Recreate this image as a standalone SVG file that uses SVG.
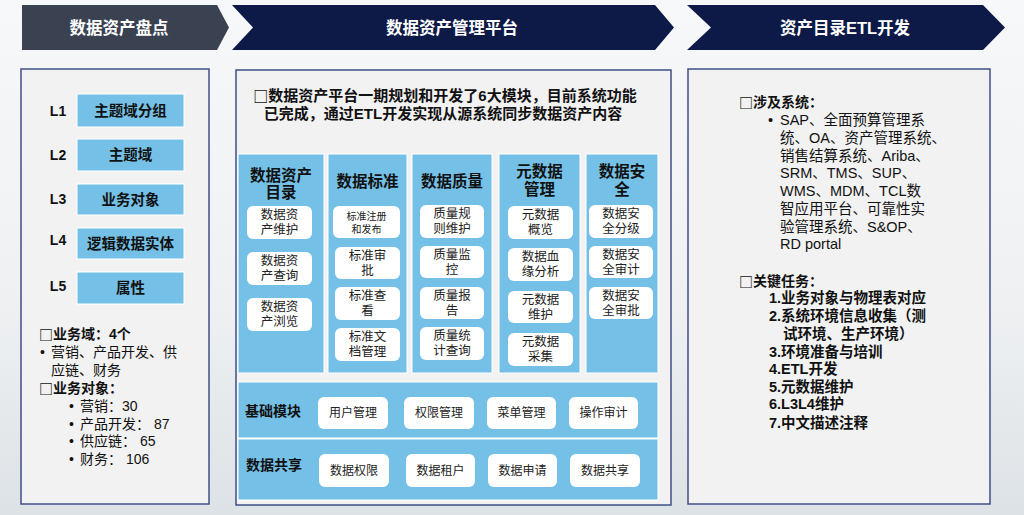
<svg xmlns="http://www.w3.org/2000/svg" width="1024" height="515" viewBox="0 0 1024 515">
<defs>
<linearGradient id="bg" x1="0" y1="0" x2="0" y2="1">
<stop offset="0" stop-color="#f7f8f9"/>
<stop offset="0.6" stop-color="#eef0f2"/>
<stop offset="1" stop-color="#dde2e6"/>
</linearGradient>
<style>
text{font-family:"Liberation Sans","Noto Sans CJK SC",sans-serif;fill:#111;}
.bx{font-family:"Noto Sans CJK SC",sans-serif;font-weight:bold;}
.hd{fill:#fff;font-size:16.5px;font-weight:bold;text-anchor:middle;dominant-baseline:central;}
.panel{fill:#f2f2f2;stroke:#3f4f86;stroke-width:1.5;}
.lvl{fill:#74c0e6;stroke:#ffffff;stroke-width:1;}
.lvlt{font-size:14.5px;font-weight:bold;text-anchor:middle;dominant-baseline:central;}
.lab{font-size:14px;font-weight:bold;text-anchor:middle;dominant-baseline:central;}
.col{fill:#74c0e6;stroke:#ffffff;stroke-width:1;}
.colt{font-size:15.5px;font-weight:bold;text-anchor:middle;dominant-baseline:central;}
.wb{fill:#ffffff;}
.wt{font-size:12.5px;text-anchor:middle;dominant-baseline:central;fill:#222;}
.ws{font-size:10px;text-anchor:middle;dominant-baseline:central;fill:#222;}
.bt{font-size:12px;text-anchor:middle;dominant-baseline:central;fill:#222;}
.rowt{font-size:14px;font-weight:bold;dominant-baseline:central;}
.b{font-size:14px;font-weight:bold;dominant-baseline:central;}
.n{font-size:14px;dominant-baseline:central;}
.r{font-size:14.5px;dominant-baseline:central;}
.rb{font-size:14.5px;font-weight:bold;dominant-baseline:central;}
.intro{font-size:15px;font-weight:bold;text-anchor:middle;dominant-baseline:central;}
</style>
</defs>
<rect x="0" y="0" width="1024" height="515" fill="url(#bg)"/>

<g id="header">
<polygon points="22,5 217,5 229,27.5 217,50 22,50" fill="#3a4150"/>
<text class="hd" x="119" y="27.5">数据资产盘点</text>
<polygon points="232,5 655,5 674,27.5 655,50 232,50 253,27.5" fill="#0d1947"/>
<text class="hd" x="452" y="27.5">数据资产管理平台</text>
<polygon points="687,5 983,5 1005,27.5 983,50 687,50 711,27.5" fill="#0d1947"/>
<text class="hd" x="845" y="27.5">资产目录ETL开发</text>
</g>

<g id="left-panel">
<rect class="panel" x="21" y="69" width="188" height="435"/>
<g id="L1"><text class="lab" x="58" y="111">L1</text><rect class="lvl" x="77" y="94" width="107" height="33"/><text class="lvlt" x="130.5" y="110.5">主题域分组</text></g>
<g id="L2"><text class="lab" x="58" y="155">L2</text><rect class="lvl" x="77" y="139" width="107" height="32"/><text class="lvlt" x="130.5" y="155">主题域</text></g>
<g id="L3"><text class="lab" x="58" y="199">L3</text><rect class="lvl" x="77" y="184" width="107" height="31"/><text class="lvlt" x="130.5" y="199.5">业务对象</text></g>
<g id="L4"><text class="lab" x="58" y="240">L4</text><rect class="lvl" x="77" y="228" width="107" height="31"/><text class="lvlt" x="130.5" y="243.5">逻辑数据实体</text></g>
<g id="L5"><text class="lab" x="58" y="286">L5</text><rect class="lvl" x="77" y="272" width="107" height="32"/><text class="lvlt" x="130.5" y="288">属性</text></g>
<g id="left-notes">
<text class="b" x="39" y="334"><tspan class="bx">□</tspan>业务域：4个</text>
<text class="n" x="40" y="352">•</text>
<text class="n" x="51" y="352">营销、产品开发、供</text>
<text class="n" x="51" y="370">应链、财务</text>
<text class="b" x="39" y="388"><tspan class="bx">□</tspan>业务对象：</text>
<text class="n" x="69" y="406">•</text>
<text class="n" x="80" y="406">营销：30</text>
<text class="n" x="69" y="424">•</text>
<text class="n" x="80" y="424">产品开发： 87</text>
<text class="n" x="69" y="441">•</text>
<text class="n" x="80" y="441">供应链： 65</text>
<text class="n" x="69" y="459">•</text>
<text class="n" x="80" y="459">财务： 106</text>
</g>
</g>

<g id="middle-panel">
<rect class="panel" x="236" y="70" width="435" height="435"/>
<text class="intro" x="445" y="95"><tspan class="bx">□</tspan>数据资产平台一期规划和开发了6大模块，目前系统功能</text>
<text class="intro" x="443" y="113">已完成，通过ETL开发实现从源系统同步数据资产内容</text>

<g id="col-catalog">
<rect class="col" x="238" y="154" width="86" height="219"/>
<text class="colt" x="281" y="175">数据资产</text>
<text class="colt" x="281" y="192">目录</text>
<rect class="wb" x="247" y="206" width="65" height="33" rx="6"/>
<text class="wt" x="279.5" y="215">数据资</text><text class="wt" x="279.5" y="230">产维护</text>
<rect class="wb" x="247" y="252" width="65" height="33" rx="6"/>
<text class="wt" x="279.5" y="261">数据资</text><text class="wt" x="279.5" y="276">产查询</text>
<rect class="wb" x="247" y="298" width="65" height="33" rx="6"/>
<text class="wt" x="279.5" y="307">数据资</text><text class="wt" x="279.5" y="322">产浏览</text>
</g>

<g id="col-standard">
<rect class="col" x="328" y="154" width="79" height="219"/>
<text class="colt" x="367.5" y="181">数据标准</text>
<rect class="wb" x="333" y="206" width="67" height="32" rx="6"/>
<text class="ws" x="366.5" y="216">标准注册</text><text class="ws" x="366.5" y="229">和发布</text>
<rect class="wb" x="335" y="247" width="65" height="32" rx="6"/>
<text class="wt" x="367.5" y="256">标准审</text><text class="wt" x="367.5" y="271">批</text>
<rect class="wb" x="335" y="287" width="65" height="33" rx="6"/>
<text class="wt" x="367.5" y="296">标准查</text><text class="wt" x="367.5" y="311">看</text>
<rect class="wb" x="335" y="328" width="65" height="33" rx="6"/>
<text class="wt" x="367.5" y="337">标准文</text><text class="wt" x="367.5" y="352">档管理</text>
</g>

<g id="col-quality">
<rect class="col" x="412" y="154" width="80" height="219"/>
<text class="colt" x="452" y="181">数据质量</text>
<rect class="wb" x="420" y="205" width="64" height="33" rx="6"/>
<text class="wt" x="452" y="214">质量规</text><text class="wt" x="452" y="229">则维护</text>
<rect class="wb" x="420" y="246" width="64" height="32" rx="6"/>
<text class="wt" x="452" y="255">质量监</text><text class="wt" x="452" y="270">控</text>
<rect class="wb" x="420" y="287" width="64" height="32" rx="6"/>
<text class="wt" x="452" y="296">质量报</text><text class="wt" x="452" y="311">告</text>
<rect class="wb" x="420" y="327" width="64" height="33" rx="6"/>
<text class="wt" x="452" y="336">质量统</text><text class="wt" x="452" y="351">计查询</text>
</g>

<g id="col-metadata">
<rect class="col" x="499" y="154" width="81" height="219"/>
<text class="colt" x="539.5" y="171">元数据</text>
<text class="colt" x="539.5" y="189">管理</text>
<rect class="wb" x="508" y="206" width="65" height="33" rx="6"/>
<text class="wt" x="540.5" y="215">元数据</text><text class="wt" x="540.5" y="230">概览</text>
<rect class="wb" x="508" y="248" width="65" height="33" rx="6"/>
<text class="wt" x="540.5" y="257">数据血</text><text class="wt" x="540.5" y="272">缘分析</text>
<rect class="wb" x="508" y="291" width="65" height="32" rx="6"/>
<text class="wt" x="540.5" y="300">元数据</text><text class="wt" x="540.5" y="315">维护</text>
<rect class="wb" x="508" y="333" width="65" height="33" rx="6"/>
<text class="wt" x="540.5" y="342">元数据</text><text class="wt" x="540.5" y="357">采集</text>
</g>

<g id="col-security">
<rect class="col" x="586" y="154" width="72" height="219"/>
<text class="colt" x="622" y="171">数据安</text>
<text class="colt" x="622" y="189">全</text>
<rect class="wb" x="589" y="205" width="64" height="33" rx="6"/>
<text class="wt" x="621" y="214">数据安</text><text class="wt" x="621" y="229">全分级</text>
<rect class="wb" x="589" y="246" width="64" height="32" rx="6"/>
<text class="wt" x="621" y="255">数据安</text><text class="wt" x="621" y="270">全审计</text>
<rect class="wb" x="589" y="287" width="64" height="32" rx="6"/>
<text class="wt" x="621" y="296">数据安</text><text class="wt" x="621" y="311">全审批</text>
</g>

<g id="row-base">
<rect class="col" x="238" y="382" width="420" height="56"/>
<text class="rowt" x="245" y="411">基础模块</text>
<rect class="wb" x="318" y="397" width="70" height="32" rx="6"/><text class="bt" x="353" y="413">用户管理</text>
<rect class="wb" x="404" y="397" width="70" height="32" rx="6"/><text class="bt" x="439" y="413">权限管理</text>
<rect class="wb" x="487" y="397" width="69" height="32" rx="6"/><text class="bt" x="521.5" y="413">菜单管理</text>
<rect class="wb" x="569" y="397" width="69" height="32" rx="6"/><text class="bt" x="603.5" y="413">操作审计</text>
</g>

<g id="row-share">
<rect class="col" x="238" y="439" width="420" height="61"/>
<text class="rowt" x="246" y="465">数据共享</text>
<rect class="wb" x="319" y="454" width="70" height="33" rx="6"/><text class="bt" x="354" y="470.5">数据权限</text>
<rect class="wb" x="406" y="454" width="69" height="33" rx="6"/><text class="bt" x="440.5" y="470.5">数据租户</text>
<rect class="wb" x="488" y="454" width="69" height="33" rx="6"/><text class="bt" x="522.5" y="470.5">数据申请</text>
<rect class="wb" x="570" y="454" width="70" height="33" rx="6"/><text class="bt" x="605" y="470.5">数据共享</text>
</g>
</g>

<g id="right-panel">
<rect class="panel" x="688" y="69" width="302" height="435"/>
<text class="b" x="739" y="102"><tspan class="bx">□</tspan>涉及系统：</text>
<text class="r" x="768" y="120">•</text>
<text class="r" x="780" y="120">SAP、全面预算管理系</text>
<text class="r" x="780" y="138">统、OA、资产管理系统、</text>
<text class="r" x="780" y="156">销售结算系统、Ariba、</text>
<text class="r" x="780" y="173">SRM、TMS、SUP、</text>
<text class="r" x="780" y="191">WMS、MDM、TCL数</text>
<text class="r" x="780" y="209">智应用平台、可靠性实</text>
<text class="r" x="780" y="227">验管理系统、S&amp;OP、</text>
<text class="r" x="780" y="244">RD portal</text>
<text class="b" x="739" y="281"><tspan class="bx">□</tspan>关键任务：</text>
<text class="rb" x="769" y="298">1.业务对象与物理表对应</text>
<text class="rb" x="769" y="316">2.系统环境信息收集（测</text>
<text class="rb" x="783" y="334">试环境、生产环境）</text>
<text class="rb" x="769" y="352">3.环境准备与培训</text>
<text class="rb" x="769" y="369">4.ETL开发</text>
<text class="rb" x="769" y="387">5.元数据维护</text>
<text class="rb" x="769" y="404">6.L3L4维护</text>
<text class="rb" x="769" y="423">7.中文描述注释</text>
</g>
<g id="connectors"/>
</svg>
